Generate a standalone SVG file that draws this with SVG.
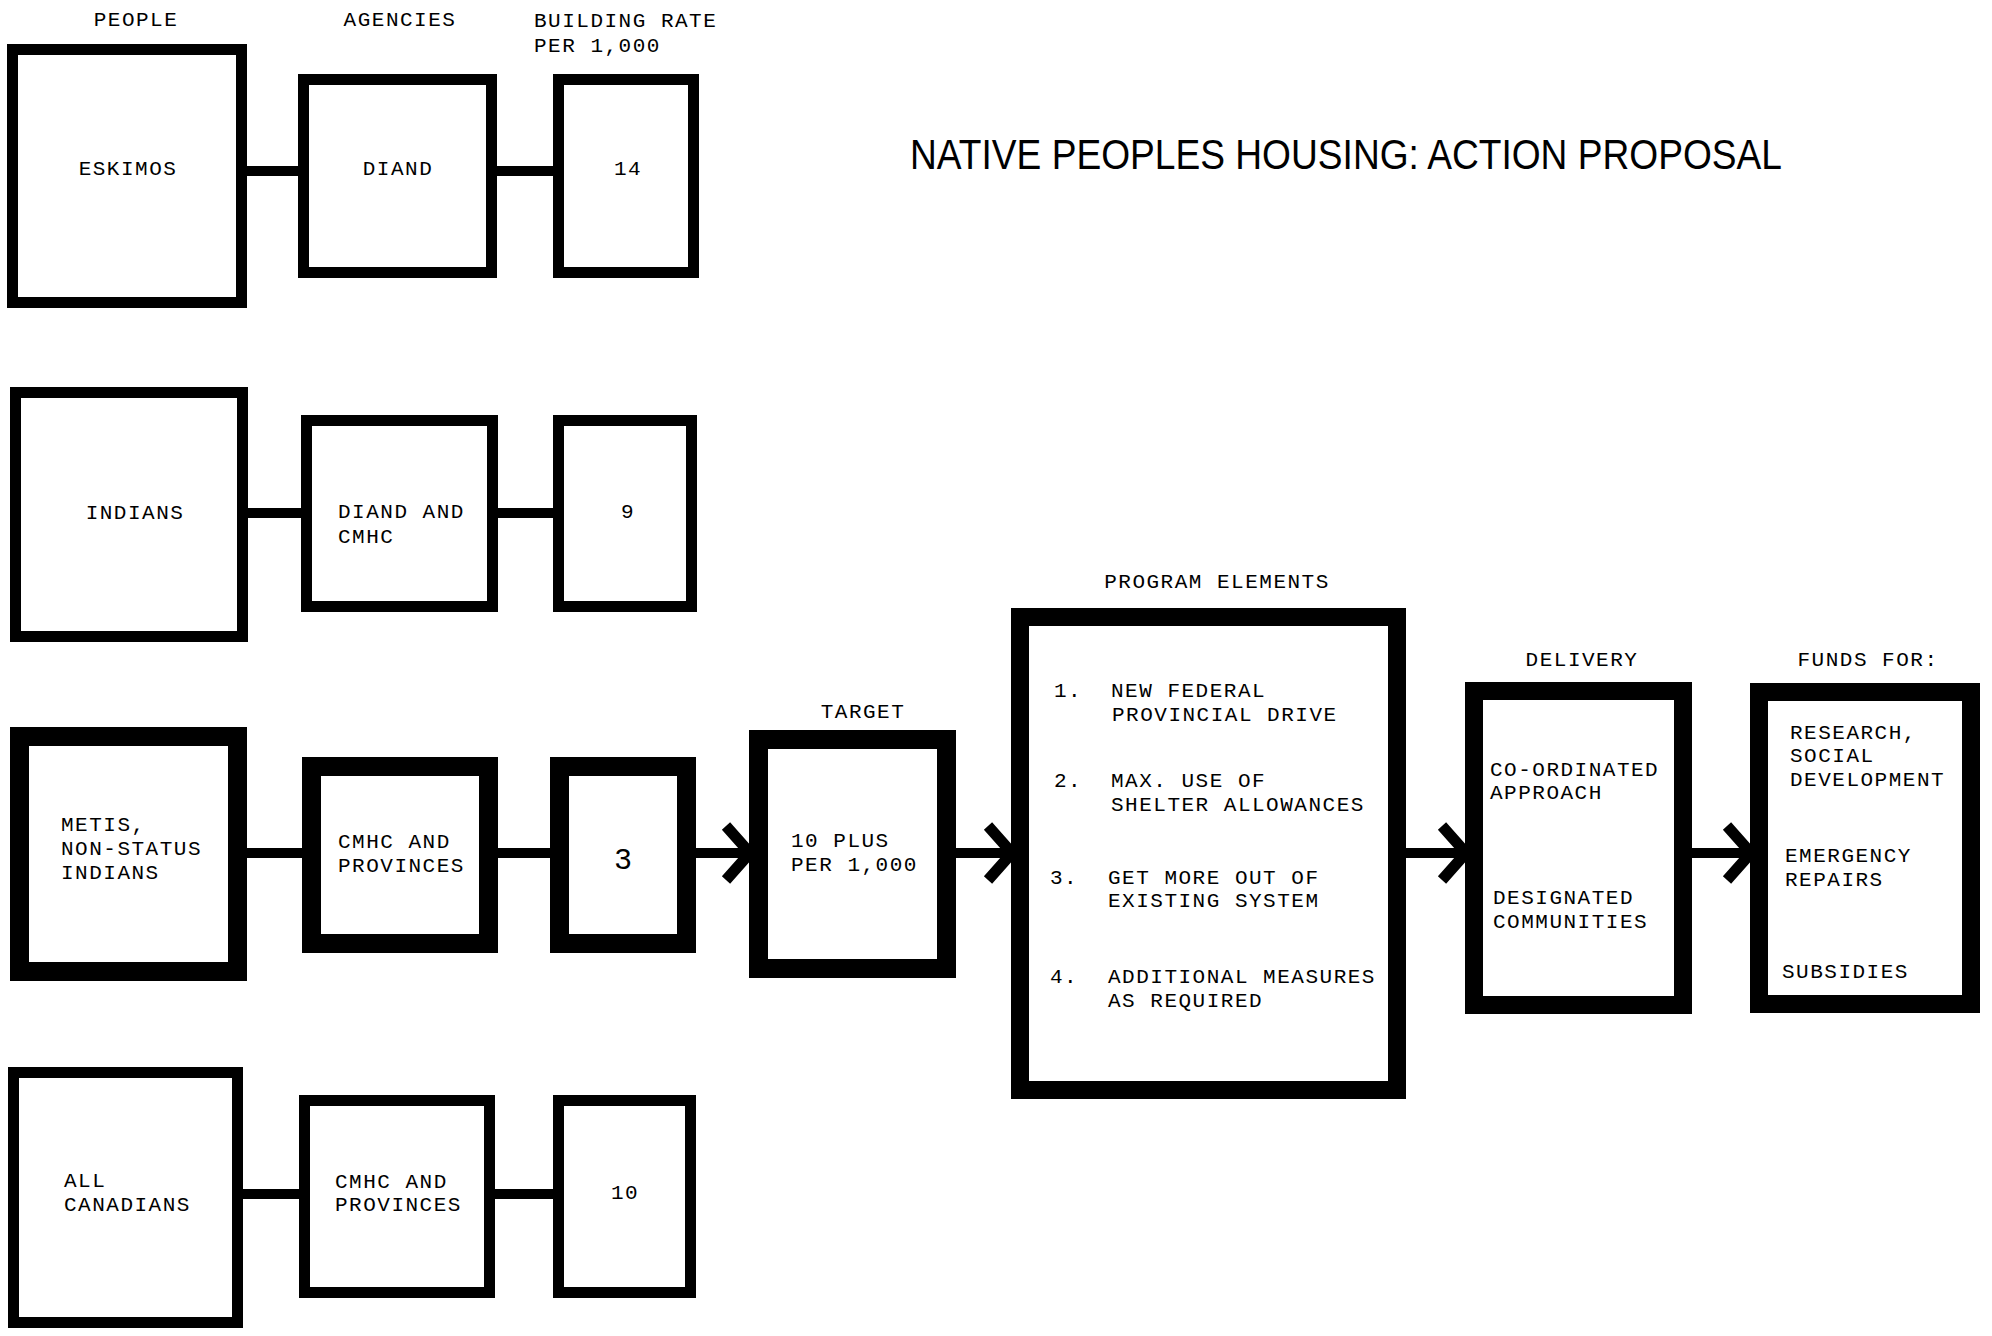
<svg xmlns="http://www.w3.org/2000/svg" width="1992" height="1336" viewBox="0 0 1992 1336">
<defs>
<style>
.bg{fill:#ffffff}
.box{fill:#ffffff;stroke:#000000;stroke-width:11}
.thick{fill:#ffffff;stroke:#000000;stroke-width:19}
.thick2{fill:#ffffff;stroke:#000000;stroke-width:18}
.conn{stroke:#000000;stroke-width:10;fill:none}
.t{font-family:"Liberation Mono","Courier New",monospace;font-size:21px;letter-spacing:1.5px;fill:#000000}
.c{text-anchor:middle}
.big{font-family:"Liberation Sans",Arial,sans-serif;font-size:30px;fill:#000000;text-anchor:middle}
.title{font-family:"Liberation Sans",Arial,sans-serif;font-size:42px;fill:#000000}
</style>
<marker id="chev" markerUnits="userSpaceOnUse" viewBox="-40 -40 50 80" markerWidth="50" markerHeight="80" refX="0" refY="0" orient="auto" overflow="visible">
<path d="M -26 -27 L -2 0 L -26 27" fill="none" stroke="#000000" stroke-width="11"/>
</marker>
</defs>
<rect class="bg" x="0" y="0" width="1992" height="1336"/>

<g id="headers">
<text class="t c" x="136" y="26">PEOPLE</text>
<text class="t c" x="400" y="26">AGENCIES</text>
<text class="t" x="534" y="27">BUILDING RATE</text>
<text class="t" x="534" y="52">PER 1,000</text>
<text class="t c" x="863" y="718">TARGET</text>
<text class="t c" x="1217" y="588">PROGRAM ELEMENTS</text>
<text class="t c" x="1582" y="666">DELIVERY</text>
<text class="t c" x="1868" y="666">FUNDS FOR:</text>
</g>

<g id="title">
<text class="title" x="910" y="169" textLength="872" lengthAdjust="spacingAndGlyphs">NATIVE  PEOPLES HOUSING: ACTION PROPOSAL</text>
</g>

<g id="connectors">
<line class="conn" x1="247" y1="171" x2="298" y2="171"/>
<line class="conn" x1="497" y1="171" x2="553" y2="171"/>
<line class="conn" x1="248" y1="513" x2="301" y2="513"/>
<line class="conn" x1="498" y1="513" x2="553" y2="513"/>
<line class="conn" x1="247" y1="853" x2="302" y2="853"/>
<line class="conn" x1="498" y1="853" x2="550" y2="853"/>
<line class="conn" x1="243" y1="1194" x2="299" y2="1194"/>
<line class="conn" x1="495" y1="1194" x2="553" y2="1194"/>
<line class="conn" x1="696" y1="853" x2="752" y2="853" marker-end="url(#chev)"/>
<line class="conn" x1="956" y1="853" x2="1014" y2="853" marker-end="url(#chev)"/>
<line class="conn" x1="1406" y1="853" x2="1468" y2="853" marker-end="url(#chev)"/>
<line class="conn" x1="1692" y1="853" x2="1753" y2="853" marker-end="url(#chev)"/>
</g>

<g id="eskimos">
<rect class="box" x="12.5" y="49.5" width="229" height="253"/>
<text class="t c" x="128" y="175">ESKIMOS</text>
</g>
<g id="diand">
<rect class="box" x="303.5" y="79.5" width="188" height="193"/>
<text class="t c" x="398" y="175">DIAND</text>
</g>
<g id="rate-14">
<rect class="box" x="558.5" y="79.5" width="135" height="193"/>
<text class="t c" x="628" y="175">14</text>
</g>

<g id="indians">
<rect class="box" x="15.5" y="392.5" width="227" height="244"/>
<text class="t c" x="135" y="519">INDIANS</text>
</g>
<g id="diand-cmhc">
<rect class="box" x="306.5" y="420.5" width="186" height="186"/>
<text class="t" x="338" y="518">DIAND AND</text>
<text class="t" x="338" y="543">CMHC</text>
</g>
<g id="rate-9">
<rect class="box" x="558.5" y="420.5" width="133" height="186"/>
<text class="t c" x="628" y="518">9</text>
</g>

<g id="metis">
<rect class="thick" x="19.5" y="736.5" width="218" height="235"/>
<text class="t" x="61" y="831">METIS,</text>
<text class="t" x="61" y="855">NON-STATUS</text>
<text class="t" x="61" y="879">INDIANS</text>
</g>
<g id="cmhc-prov-1">
<rect class="thick" x="311.5" y="766.5" width="177" height="177"/>
<text class="t" x="338" y="848">CMHC AND</text>
<text class="t" x="338" y="872">PROVINCES</text>
</g>
<g id="rate-3">
<rect class="thick" x="559.5" y="766.5" width="127" height="177"/>
<text class="big" x="623" y="869">3</text>
</g>
<g id="target">
<rect class="thick" x="758.5" y="739.5" width="188" height="229"/>
<text class="t" x="791" y="847">10 PLUS</text>
<text class="t" x="791" y="871">PER 1,000</text>
</g>
<g id="program">
<rect class="thick2" x="1020" y="617" width="377" height="473"/>
<text class="t" x="1054" y="697">1.</text>
<text class="t" x="1111" y="697">NEW FEDERAL</text>
<text class="t" x="1112" y="721">PROVINCIAL DRIVE</text>
<text class="t" x="1054" y="787">2.</text>
<text class="t" x="1111" y="787">MAX. USE OF</text>
<text class="t" x="1111" y="811">SHELTER ALLOWANCES</text>
<text class="t" x="1050" y="884">3.</text>
<text class="t" x="1108" y="884">GET MORE OUT OF</text>
<text class="t" x="1108" y="907">EXISTING SYSTEM</text>
<text class="t" x="1050" y="983">4.</text>
<text class="t" x="1108" y="983">ADDITIONAL MEASURES</text>
<text class="t" x="1108" y="1007">AS REQUIRED</text>
</g>
<g id="delivery">
<rect class="thick2" x="1474" y="691" width="209" height="314"/>
<text class="t" x="1490" y="776">CO-ORDINATED</text>
<text class="t" x="1490" y="799">APPROACH</text>
<text class="t" x="1493" y="904">DESIGNATED</text>
<text class="t" x="1493" y="928">COMMUNITIES</text>
</g>
<g id="funds">
<rect class="thick2" x="1759" y="692" width="212" height="312"/>
<text class="t" x="1790" y="739">RESEARCH,</text>
<text class="t" x="1790" y="762">SOCIAL</text>
<text class="t" x="1790" y="786">DEVELOPMENT</text>
<text class="t" x="1785" y="862">EMERGENCY</text>
<text class="t" x="1785" y="886">REPAIRS</text>
<text class="t" x="1782" y="978">SUBSIDIES</text>
</g>

<g id="all-canadians">
<rect class="box" x="13.5" y="1072.5" width="224" height="250"/>
<text class="t" x="64" y="1187">ALL</text>
<text class="t" x="64" y="1211">CANADIANS</text>
</g>
<g id="cmhc-prov-2">
<rect class="box" x="304.5" y="1100.5" width="185" height="192"/>
<text class="t" x="335" y="1188">CMHC AND</text>
<text class="t" x="335" y="1211">PROVINCES</text>
</g>
<g id="rate-10">
<rect class="box" x="558.5" y="1100.5" width="132" height="192"/>
<text class="t c" x="625" y="1199">10</text>
</g>
</svg>
